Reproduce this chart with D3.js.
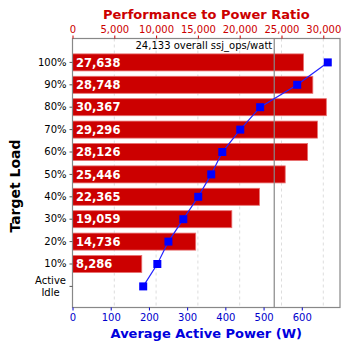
<!DOCTYPE html>
<html><head><meta charset="utf-8">
<script src="https://cdn.jsdelivr.net/npm/d3@7"></script>
<style>body{margin:0;background:#fff}svg{display:block;font-family:"DejaVu Sans",Verdana,sans-serif}</style>
</head><body><svg id="c" width="348" height="348"></svg>
<script>
const categories = ["100%","90%","80%","70%","60%","50%","40%","30%","20%","10%","Active Idle"];
const perfRatio = [27638,28748,30367,29296,28126,25446,22365,19059,14736,8286,null];
const avgPower = [668,588,491,439,392,363,329,290,251,222,185];
const overall = 24133;
const topTicks = [0,5000,10000,15000,20000,25000,30000];
const bottomTicks = [0,100,200,300,400,500,600];

const svg = d3.select("#c");
const L=72.5, R=340, T=38.5, B=307.5;
const xTop = d3.scaleLinear().domain([0,32000]).range([L,R]);
const xBot = d3.scaleLinear().domain([0,700]).range([L,R]);
const y = d3.scaleBand().domain(categories).range([51.2,297.6]).paddingInner(0.24).paddingOuter(0.12);

// gridlines
svg.append("g").selectAll("line").data(topTicks.slice(1)).join("line")
  .attr("x1",d=>xTop(d)).attr("x2",d=>xTop(d)).attr("y1",T).attr("y2",B)
  .attr("stroke","#ddd").attr("stroke-dasharray","3,3");

// bars
svg.append("g").selectAll("rect").data(categories.map((c,i)=>({c,v:perfRatio[i]})).filter(d=>d.v!=null)).join("rect")
  .attr("x",L).attr("y",d=>y(d.c)).attr("width",d=>xTop(d.v)-L).attr("height",y.bandwidth())
  .attr("fill","#cc0000").attr("stroke","#e87070").attr("stroke-width",0.8);

svg.append("g").selectAll("text").data(categories.map((c,i)=>({c,v:perfRatio[i]})).filter(d=>d.v!=null)).join("text")
  .attr("x",L+3.5).attr("y",d=>y(d.c)+y.bandwidth()/2).attr("dy","0.36em")
  .attr("fill","#fff").attr("font-weight","bold").attr("font-size",11.5)
  .text(d=>d3.format(",")(d.v));

// overall line
svg.append("line").attr("x1",xTop(overall)).attr("x2",xTop(overall)).attr("y1",T).attr("y2",B)
  .attr("stroke","#888").attr("stroke-width",1.2);
svg.append("text").attr("x",xTop(overall)-2).attr("y",49).attr("text-anchor","end")
  .attr("font-size",10).attr("fill","#000").text(d3.format(",")(overall)+" overall ssj_ops/watt");

// power line
const line = d3.line().x(d=>xBot(d.p)).y(d=>y(d.c)+y.bandwidth()/2);
const pts = categories.map((c,i)=>({c,p:avgPower[i]}));
svg.append("path").datum(pts).attr("d",line).attr("fill","none").attr("stroke","#2222ff").attr("stroke-width",1.2);
svg.append("g").selectAll("rect").data(pts).join("rect")
  .attr("x",d=>xBot(d.p)-4).attr("y",d=>y(d.c)+y.bandwidth()/2-4).attr("width",8).attr("height",8)
  .attr("fill","#0000ff");

// border
svg.append("rect").attr("x",L).attr("y",T).attr("width",R-L).attr("height",B-T)
  .attr("fill","none").attr("stroke","#888").attr("stroke-width",1.2);

// top axis
const gt = svg.append("g").attr("transform",`translate(0,${T})`)
  .call(d3.axisTop(xTop).tickValues(topTicks).tickFormat(d3.format(",")).tickSize(3).tickSizeOuter(0));
gt.select(".domain").remove();
gt.selectAll("line").attr("stroke","#cc0000");
gt.selectAll("text").attr("fill","#cc0000").attr("font-size",10).attr("font-family","DejaVu Sans");

// bottom axis
const gb = svg.append("g").attr("transform",`translate(0,${B})`)
  .call(d3.axisBottom(xBot).tickValues(bottomTicks).tickSize(3).tickSizeOuter(0));
gb.select(".domain").remove();
gb.selectAll("line").attr("stroke","#0000cc");
gb.selectAll("text").attr("fill","#0000cc").attr("font-size",10).attr("font-family","DejaVu Sans");

// left axis
const gl = svg.append("g").attr("transform",`translate(${L},0)`)
  .call(d3.axisLeft(y).tickSize(3).tickSizeOuter(0).tickPadding(3));
gl.select(".domain").remove();
gl.selectAll("line").attr("stroke","#555");
gl.selectAll("text").attr("fill","#000").attr("font-size",10).attr("font-family","DejaVu Sans")
  .each(function(d){
    if(d==="Active Idle"){
      const t=d3.select(this); t.text(null).attr("dy",null).attr("text-anchor","middle");
      t.append("tspan").attr("x",-22).attr("dy","-0.2em").text("Active");
      t.append("tspan").attr("x",-22).attr("dy","1.15em").text("Idle");
    }
  });

// titles
svg.append("text").attr("x",(L+R)/2).attr("y",19).attr("text-anchor","middle")
  .attr("font-size",13).attr("font-weight","bold").attr("fill","#cc0000").text("Performance to Power Ratio");
svg.append("text").attr("x",(L+R)/2).attr("y",338).attr("text-anchor","middle")
  .attr("font-size",13).attr("font-weight","bold").attr("fill","#0000dd").text("Average Active Power (W)");
svg.append("text").attr("transform","translate(20,186) rotate(-90)").attr("text-anchor","middle")
  .attr("font-size",14).attr("font-weight","bold").attr("fill","#000").text("Target Load");
</script></body></html>
